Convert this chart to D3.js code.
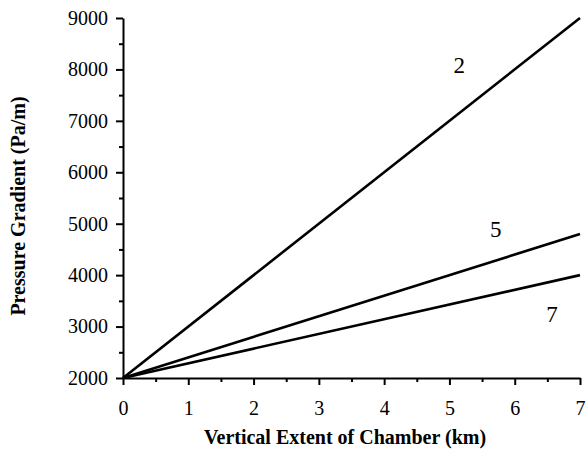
<!DOCTYPE html>
<html lang="en">
<head>
<meta charset="UTF-8">
<title>Pressure Gradient vs Vertical Extent</title>
<script src="https://d3js.org/d3.v7.min.js"></script>
<style>
    body { margin: 0; background: #fff; }
    svg { font-family: "Liberation Serif", "Times New Roman", serif; }
    .axis path, .axis line { stroke: #000; stroke-width: 2; }
    .axis text { font-size: 20px; fill: #000; }
    .title { font-size: 20px; font-weight: bold; }
</style>
</head>
<body>
<svg width="586" height="449"></svg>
<script>
// data
const extentKm = [0, 7];
const series = [
    { label: "2", values: [2000, 9000], labelAt: [5.15, 7930] },
    { label: "5", values: [2000, 4800], labelAt: [5.71, 4740] },
    { label: "7", values: [2000, 4000], labelAt: [6.57, 3080] }
];
const xTicks = [0, 1, 2, 3, 4, 5, 6, 7];
const yTicks = [2000, 3000, 4000, 5000, 6000, 7000, 8000, 9000];

const margin = { top: 18, right: 6, bottom: 71, left: 123 };
const svg = d3.select("svg");
const height = 449 - margin.top - margin.bottom;

const g = svg.append("g")
    .attr("transform", "translate(" + margin.left + "," + margin.top + ")");

const x = d3.scaleLinear().domain([0, 7]).range([0, 457]);
const y = d3.scaleLinear().domain([2000, 9000]).range([height, 0]);

// minor ticks first
g.append("g")
    .attr("class", "axis")
    .attr("transform", "translate(0," + height + ")")
    .call(d3.axisBottom(x).tickValues(d3.range(0.5, 7, 1)).tickSize(4).tickFormat("").tickSizeOuter(0))
    .select(".domain").remove();
g.append("g")
    .attr("class", "axis")
    .call(d3.axisLeft(y).tickValues(d3.range(2500, 9000, 1000)).tickSize(4).tickFormat("").tickSizeOuter(0))
    .select(".domain").remove();

// major axes
g.append("g")
    .attr("class", "axis")
    .attr("transform", "translate(0," + height + ")")
    .call(d3.axisBottom(x).tickValues(xTicks).tickSize(7).tickSizeOuter(0).tickPadding(16).tickFormat(d3.format("d")));

g.append("g")
    .attr("class", "axis")
    .call(d3.axisLeft(y).tickValues(yTicks).tickSize(7).tickSizeOuter(0).tickPadding(8).tickFormat(d3.format("d")));

g.selectAll(".axis").attr("font-family", null).attr("font-size", null);

// lines
const line = d3.line()
    .x((d, i) => x(extentKm[i]))
    .y(d => y(d));

g.selectAll(".series")
    .data(series)
    .enter().append("path")
    .attr("fill", "none")
    .attr("stroke", "#000")
    .attr("stroke-width", 2.6)
    .attr("d", d => line(d.values));

g.selectAll(".lbl")
    .data(series)
    .enter().append("text")
    .attr("x", d => x(d.labelAt[0]))
    .attr("y", d => y(d.labelAt[1]))
    .attr("text-anchor", "middle")
    .attr("font-size", "23px")
    .text(d => d.label);

// axis titles
svg.append("text")
    .attr("class", "title")
    .attr("x", 345)
    .attr("y", 444)
    .attr("text-anchor", "middle")
    .text("Vertical Extent of Chamber (km)");

svg.append("text")
    .attr("class", "title")
    .attr("transform", "translate(25,206) rotate(-90)")
    .attr("text-anchor", "middle")
    .text("Pressure Gradient (Pa/m)");
</script>
</body>
</html>
